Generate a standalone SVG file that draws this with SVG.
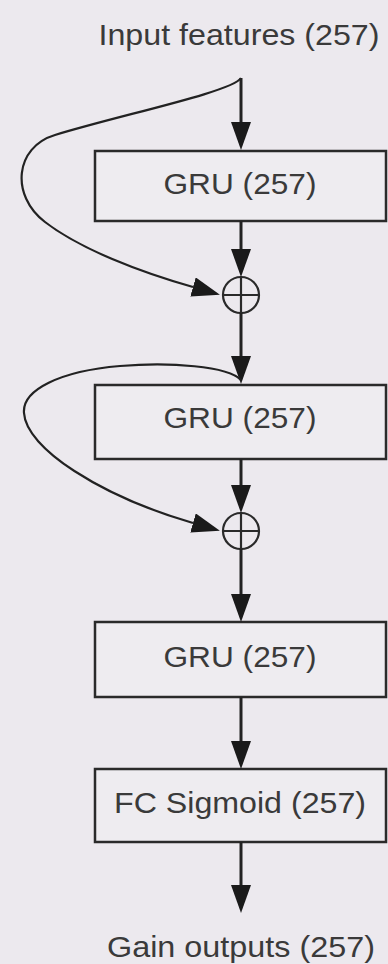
<svg xmlns="http://www.w3.org/2000/svg" width="388" height="964" viewBox="0 0 388 964">
  <style>
    .box { fill: #eeecf0; stroke: #2a2a2a; stroke-width: 2.5; }
    .lbl { font-family: "Liberation Sans", Arial, sans-serif; font-size: 29px; fill: #3a3a3a; text-anchor: middle; }
    .flow { fill: none; stroke: #222; stroke-width: 3; marker-end: url(#head); }
    .skip { fill: none; stroke: #222; stroke-width: 2.2; marker-end: url(#head); }
    .sum { fill: none; stroke: #2a2a2a; stroke-width: 2.2; }
  </style>
  <defs>
    <marker id="head" markerUnits="userSpaceOnUse" markerWidth="28" markerHeight="20" viewBox="0 0 28 20" refX="0" refY="10" orient="auto">
      <path d="M0,0 L28,10 L0,20 z" fill="#1a1a1a"/>
    </marker>
  </defs>
  <rect width="388" height="964" fill="#ece9ee"/>

  <text id="input" class="lbl" x="239" y="45" textLength="281" lengthAdjust="spacingAndGlyphs">Input features (257)</text>

  <g id="gru1">
    <rect class="box" x="95" y="151" width="291" height="70"/>
    <text class="lbl" x="240" y="194" textLength="153" lengthAdjust="spacingAndGlyphs">GRU (257)</text>
  </g>

  <g id="add1">
    <circle class="sum" cx="241" cy="295" r="18"/>
    <line class="sum" x1="223" y1="295" x2="259" y2="295"/>
    <line class="sum" x1="241" y1="277" x2="241" y2="313"/>
  </g>

  <g id="gru2">
    <rect class="box" x="95" y="385" width="291" height="74"/>
    <text class="lbl" x="240" y="428" textLength="153" lengthAdjust="spacingAndGlyphs">GRU (257)</text>
  </g>

  <g id="add2">
    <circle class="sum" cx="241" cy="531" r="18"/>
    <line class="sum" x1="223" y1="531" x2="259" y2="531"/>
    <line class="sum" x1="241" y1="513" x2="241" y2="549"/>
  </g>

  <g id="gru3">
    <rect class="box" x="95" y="622" width="291" height="75"/>
    <text class="lbl" x="240" y="667" textLength="153" lengthAdjust="spacingAndGlyphs">GRU (257)</text>
  </g>

  <g id="fc">
    <rect class="box" x="95" y="769" width="291" height="73"/>
    <text class="lbl" x="240" y="813" textLength="252" lengthAdjust="spacingAndGlyphs">FC Sigmoid (257)</text>
  </g>

  <text id="output" class="lbl" x="241" y="957" textLength="268" lengthAdjust="spacingAndGlyphs">Gain outputs (257)</text>

  <g id="connectors">
    <!-- main forward path -->
    <path class="flow" d="M241,78 V122"/>
    <path class="flow" d="M241,221 V249"/>
    <path class="flow" d="M241,313 V356"/>
    <path class="flow" d="M241,459 V485"/>
    <path class="flow" d="M241,549 V594"/>
    <path class="flow" d="M241,697 V741"/>
    <path class="flow" d="M241,842 V885"/>
    <!-- residual skips into the adders -->
    <path class="skip" d="M241,78 C232,92 120,115 55,135 C15,147 10,195 45,222 C80,249 140,272 193,287"/>
    <path class="skip" d="M241,380 C228,366 170,362 120,366 C60,371 22,390 24,413 C26,448 100,496 193,523"/>
  </g>
</svg>
